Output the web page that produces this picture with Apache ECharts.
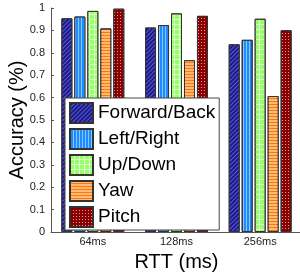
<!DOCTYPE html>
<html><head><meta charset="utf-8">
<script src="https://cdn.jsdelivr.net/npm/echarts@6/dist/echarts.min.js"></script>
<style>html,body{margin:0;padding:0;background:#fff}#c{width:300px;height:275px}</style>
</head><body><div id="c"></div>
<script>
const categories = ['64ms', '128ms', '256ms'];
const seriesNames = ['Forward/Back', 'Left/Right', 'Up/Down', 'Yaw', 'Pitch'];
const forwardBack = [0.954, 0.913, 0.838];
const leftRight = [0.962, 0.924, 0.858];
const upDown = [0.987, 0.976, 0.952];
const yaw = [0.909, 0.767, 0.607];
const pitch = [0.997, 0.965, 0.901];
const yTicks = [0, 0.1, 0.2, 0.3, 0.4, 0.5, 0.6, 0.7, 0.8, 0.9, 1];

const values = [forwardBack, leftRight, upDown, yaw, pitch];
const styles = [
  {color: '#1a1a88', decal: {symbol: 'rect', symbolSize: 1, dashArrayX: [1, 0], dashArrayY: [1, 2], rotation: -Math.PI / 4, color: 'rgba(100,100,220,0.85)'}},
  {color: '#1e8cff', decal: {symbol: 'rect', symbolSize: 1, dashArrayX: [1, 2], dashArrayY: [1, 0], rotation: 0, color: 'rgba(140,200,255,0.95)'}},
  {color: '#dcffcc', decal: {symbol: 'rect', symbolSize: 1, dashArrayX: [4, 1], dashArrayY: [4, 1], rotation: 0, color: '#96ff6a'}},
  {color: '#ff7a00', decal: {symbol: 'rect', symbolSize: 1, dashArrayX: [1, 0], dashArrayY: [2, 1], rotation: 0, color: 'rgba(255,190,130,0.95)'}},
  {color: '#8a0000', decal: {symbol: 'rect', symbolSize: 1, dashArrayX: [1, 2], dashArrayY: [1, 2], rotation: 0, color: 'rgba(255,200,200,0.75)'}}
];

const chart = echarts.init(document.getElementById('c'), null, {renderer: 'canvas'});
chart.setOption({
  animation: false,
  backgroundColor: '#fff',
  textStyle: {fontFamily: 'Liberation Sans, Arial, sans-serif'},
  grid: {left: 51, right: -2, top: 8, bottom: 43, containLabel: false, outerBoundsMode: 'none'},
  legend: {
    orient: 'vertical', left: 65, top: 98,
    data: seriesNames.map(n => ({name: n, icon: 'rect'})),
    itemWidth: 23, itemHeight: 20, itemGap: 4,
    padding: [4, 4, 2, 4],
    backgroundColor: '#fff', borderColor: '#444', borderWidth: 1,
    textStyle: {fontSize: 19, lineHeight: 20, color: '#000', fontFamily: 'Liberation Sans, Arial, sans-serif'}
  },
  xAxis: {
    type: 'category', data: categories,
    name: 'RTT (ms)', nameLocation: 'middle', nameGap: 20, nameMoveOverlap: false,
    nameTextStyle: {fontSize: 20, color: '#000'},
    axisLine: {lineStyle: {color: '#555'}},
    axisTick: {show: false},
    axisLabel: {fontSize: 11, color: '#222', margin: 4}
  },
  yAxis: {
    type: 'value', min: 0, max: 1, interval: 0.1,
    name: 'Accuracy (%)', nameLocation: 'middle', nameGap: 24, nameMoveOverlap: false,
    nameTextStyle: {fontSize: 20, color: '#000'},
    axisLine: {show: true, lineStyle: {color: '#555'}},
    axisTick: {show: true, inside: true, length: 3, lineStyle: {color: '#555'}},
    splitLine: {show: false},
    axisLabel: {fontSize: 11, color: '#222', margin: 6,
      formatter: v => { const t = yTicks.find(x => Math.abs(x - v) < 1e-9); return t === undefined ? '' : String(t); }}
  },
  series: seriesNames.map((n, i) => ({
    name: n, type: 'bar', data: values[i],
    barWidth: 11, barGap: '18%',
    itemStyle: Object.assign({borderColor: '#333', borderWidth: 1}, styles[i])
  }))
});
</script></body></html>
